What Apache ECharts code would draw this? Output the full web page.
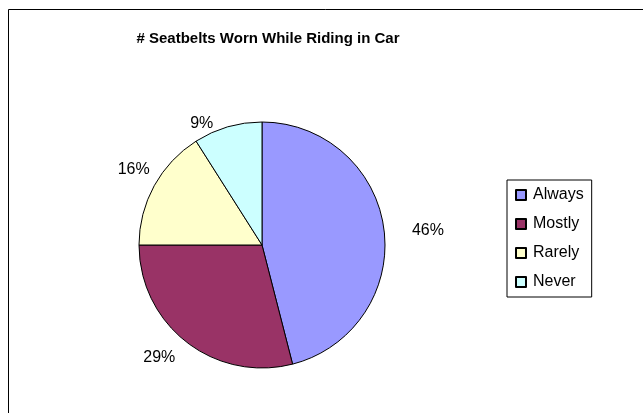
<!DOCTYPE html>
<html>
<head>
<meta charset="utf-8">
<script src="https://cdn.jsdelivr.net/npm/echarts@6/dist/echarts.min.js"></script>
<style>
html,body{margin:0;padding:0;background:#fff;}
#c{width:643px;height:413px;}
</style>
</head>
<body>
<div id="c"></div>
<script>
const titleText = '# Seatbelts Worn While Riding in Car';
const categories = ['Always', 'Mostly', 'Rarely', 'Never'];
const values = [46, 29, 16, 9];
const colors = ['#9999FF', '#993366', '#FFFFCC', '#CCFFFF'];
// label nudges (style only), relative to ECharts' default outside placement
const labelNudgeX = [5, 7, 17, 0];
const labelNudgeY = [3, 6, -10, 8];

const chart = echarts.init(document.getElementById('c'), null, {renderer: 'canvas'});
const font = 'Arial, "Liberation Sans", sans-serif';

chart.setOption({
  animation: false,
  backgroundColor: '#fff',
  title: {
    text: titleText,
    left: 268,
    top: 31,
    textAlign: 'center',
    padding: 0,
    textStyle: {fontFamily: font, fontSize: 15, fontWeight: 'bold', color: '#000'}
  },
  legend: {
    orient: 'vertical',
    left: 507,
    top: 180,
    padding: [7, 8, 7, 8],
    itemWidth: 10,
    itemHeight: 10,
    itemGap: 13,
    icon: 'rect',
    borderColor: '#000',
    borderWidth: 1,
    data: categories,
    textStyle: {fontFamily: font, fontSize: 16, color: '#000', lineHeight: 16, padding: [0, 0, 0, 2]}
  },
  graphic: [{
    type: 'polyline',
    shape: {points: [[8.5, 413], [8.5, 9.5], [643, 9.5]]},
    style: {stroke: '#000', lineWidth: 1, fill: null},
    silent: true
  }],
  series: [{
    type: 'pie',
    center: [262, 245],
    radius: 123,
    startAngle: 90,
    clockwise: true,
    percentPrecision: 0,
    avoidLabelOverlap: false,
    itemStyle: {borderColor: '#000', borderWidth: 1},
    label: {
      show: true,
      position: 'outside',
      formatter: '{d}%',
      fontFamily: font,
      fontSize: 16,
      color: '#000'
    },
    labelLine: {show: false, length: 12, length2: 6},
    labelLayout: function (p) {
      return {dx: labelNudgeX[p.dataIndex], dy: labelNudgeY[p.dataIndex]};
    },
    emphasis: {disabled: true},
    data: categories.map((name, i) => ({
      name: name,
      value: values[i],
      itemStyle: {color: colors[i]}
    }))
  }]
});
</script>
</body>
</html>
